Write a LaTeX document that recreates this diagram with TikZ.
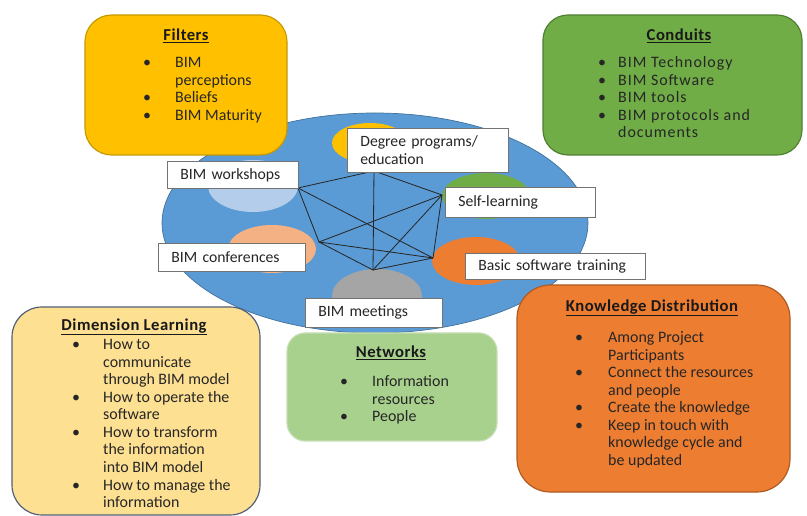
\documentclass[tikz,border=0pt]{standalone}
\usepackage{fontspec}
\setmainfont{Carlito}
\usetikzlibrary{fit}

\definecolor{hubblue}{HTML}{5B9BD5}
\definecolor{hubedge}{HTML}{41719C}
\definecolor{filtfill}{HTML}{FFC000}
\definecolor{filtedge}{HTML}{C49A00}
\definecolor{condfill}{HTML}{70AD47}
\definecolor{condedge}{HTML}{507E32}
\definecolor{dimfill}{HTML}{FEE093}
\definecolor{dimedge}{HTML}{4F5F78}
\definecolor{netfill}{HTML}{A9D18E}
\definecolor{netedge}{HTML}{C5DDB3}
\definecolor{knowfill}{HTML}{ED7D31}
\definecolor{knowedge}{HTML}{AE5A21}
\definecolor{workfill}{HTML}{B4CDEB}
\definecolor{conffill}{HTML}{F4B183}
\definecolor{meetfill}{HTML}{A5A5A5}

\tikzset{
  panel/.style={draw=#1, line width=1pt, inner sep=0pt},
  ptitle/.style={font=\fontsize{14.2}{15}\selectfont\bfseries\addfontfeature{LetterSpace=3}, text=black!90},
  plist/.style={anchor=north west, inner sep=0pt, font=\fontsize{13.6}{15}\selectfont, text=black!85},
  lbl/.style={draw=black!55, fill=white, line width=0.6pt, anchor=north west, align=left,
    inner xsep=0.39cm, inner ysep=0pt, font=\fontsize{13.4}{15}\selectfont, text=black!85},
  link/.style={draw=black!85, line width=0.7pt}
}

\begin{document}
\begin{tikzpicture}[x=0.03cm, y=-0.03cm]
            \useasboundingbox (0,0) rectangle (807,516);

            \filldraw[fill=hubblue, draw=hubedge, line width=0.6pt] (375,223) ellipse [x radius=213, y radius=110];
            \fill[filtfill] (370,143) ellipse [x radius=38, y radius=20];
            \fill[condfill] (486,196) ellipse [x radius=44, y radius=23];
            \fill[workfill] (253,186) ellipse [x radius=45, y radius=26];
            \fill[conffill] (272,249) ellipse [x radius=44, y radius=24];
            \fill[knowfill] (476,261) ellipse [x radius=44, y radius=24];
            \fill[meetfill] (377,296) ellipse [x radius=45, y radius=27];

            \coordinate (pW) at (298,188);
            \coordinate (pD) at (374,171);
            \coordinate (pS) at (442,195);
            \coordinate (pC) at (319,242);
            \coordinate (pB) at (433,258);
            \coordinate (pM) at (373,270);

            \draw[link] (pW) -- (pD);
            \draw[link] (pW) -- (pC);
            \draw[link] (pW) -- (pB);
            \draw[link] (pD) -- (pS);
            \draw[link] (pD) -- (pM);
            \draw[link] (pS) -- (pC);
            \draw[link] (pS) -- (pM);
            \draw[link] (pS) -- (pB);
            \draw[link] (pC) -- (pB);
            \draw[link] (pC) -- (pM);
            \draw[link] (pM) -- (pB);

            \node[lbl, text width=3.15cm, minimum height=0.81cm] (work) at (167,161) {BIM workshops};
            \node[lbl, text width=4.05cm, minimum height=1.32cm] (degree) at (347,128) {Degree programs/\\education};
            \node[lbl, text width=3.72cm, minimum height=0.90cm] (self) at (445,187) {Self-learning};
            \node[lbl, text width=3.63cm, minimum height=0.84cm] (conf) at (158,243) {BIM conferences};
            \node[lbl, text width=4.62cm, minimum height=0.78cm] (basic) at (465,253) {Basic software training};
            \node[lbl, text width=3.33cm, minimum height=0.87cm] (meet) at (305,298) {BIM meetings};

            \node[panel=filtedge, fill=filtfill, rounded corners=0.8cm, fit={(85,15) (287,155)}] (filters) {};
            \node[ptitle] (filtT) at (186,36) {\underline{Filters}};
            \node[plist] (filtL) at (143,55) {\begin{tabular}{@{}p{0.96cm}@{}l@{}}
              \textbullet & BIM\\ & perceptions\\ \textbullet & Beliefs\\ \textbullet & BIM Maturity
            \end{tabular}};

            \node[panel=condedge, fill=condfill, rounded corners=0.75cm, fit={(543,15) (802,155)}] (conduits) {};
            \node[ptitle] (condT) at (679,36) {\underline{Conduits}};
            \node[plist, font=\fontsize{13.6}{15}\selectfont\addfontfeature{LetterSpace=6}] (condL) at (598,55) {\begin{tabular}{@{}p{0.6cm}@{}l@{}}
              \textbullet & BIM Technology\\ \textbullet & BIM Software\\ \textbullet & BIM tools\\
              \textbullet & BIM protocols and\\ & documents
            \end{tabular}};

            \node[panel=dimedge, fill=dimfill, rounded corners=0.9cm, fit={(12,307) (260,515)}] (dimension) {};
            \node[ptitle] (dimT) at (134,327) {\underline{Dimension Learning}};
            \node[plist] (dimL) at (72,337) {\begin{tabular}{@{}p{0.93cm}@{}l@{}}
              \textbullet & How to\\ & communicate\\ & through BIM model\\
              \textbullet & How to operate the\\ & software\\
              \textbullet & How to transform\\ & the information\\ & into BIM model\\
              \textbullet & How to manage the\\ & information
            \end{tabular}};

            \node[panel=netedge, fill=netfill, rounded corners=0.55cm, fit={(287,333) (497,441)}] (networks) {};
            \node[ptitle] (netT) at (391,353) {\underline{Networks}};
            \node[plist] (netL) at (340,374) {\begin{tabular}{@{}p{0.96cm}@{}l@{}}
              \textbullet & Information\\ & resources\\ \textbullet & People
            \end{tabular}};

            \node[panel=knowedge, fill=knowfill, rounded corners=1cm, fit={(517,285) (790,492)}] (knowledge) {};
            \node[ptitle] (knowT) at (652,308) {\underline{Knowledge Distribution}};
            \node[plist] (knowL) at (575,330) {\begin{tabular}{@{}p{0.99cm}@{}l@{}}
              \textbullet & Among Project\\ & Participants\\
              \textbullet & Connect the resources\\ & and people\\
              \textbullet & Create the knowledge\\
              \textbullet & Keep in touch with\\ & knowledge cycle and\\ & be updated
            \end{tabular}};
        \end{tikzpicture}
\end{document}
